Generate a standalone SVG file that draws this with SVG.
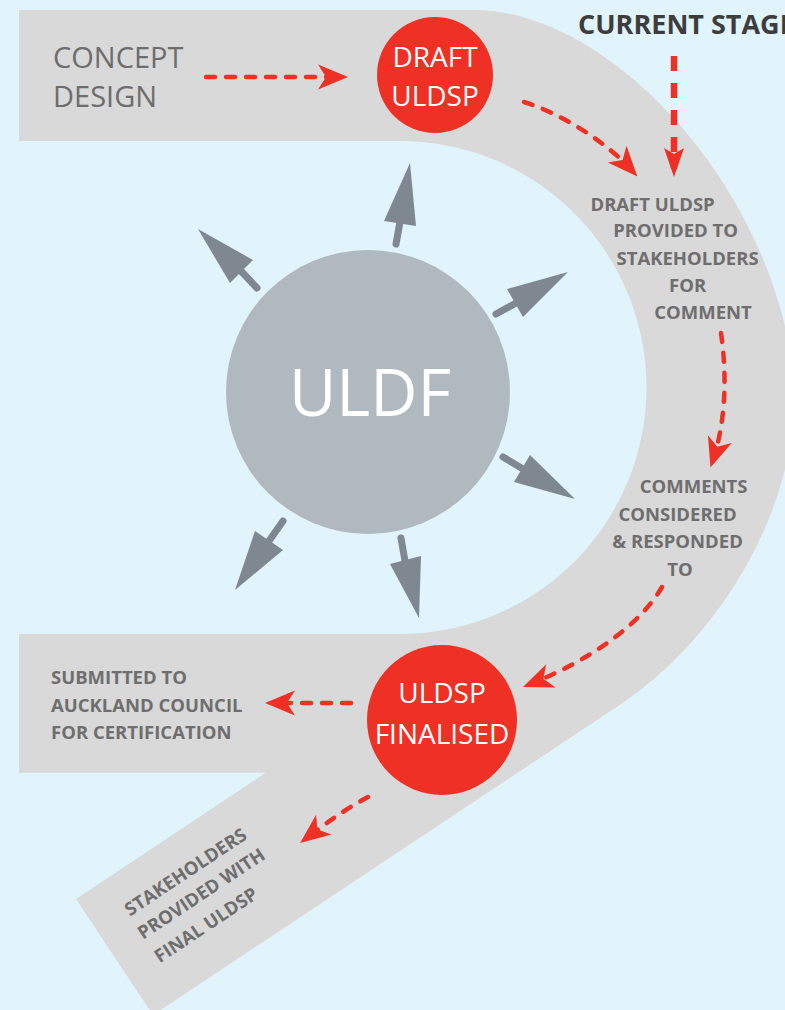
<svg xmlns="http://www.w3.org/2000/svg" width="785" height="1010" viewBox="0 0 785 1010">
  <defs>
    <style>
      .label { font-family: "Open Sans", "Liberation Sans", sans-serif; font-weight: 700; font-size: 18.5px; fill: #6e6e6e; }
      .big { font-family: "Open Sans", "Liberation Sans", sans-serif; font-size: 28px; fill: #ffffff; text-anchor: middle; }
      .flow { fill: none; stroke: #ee3124; stroke-width: 4.5; stroke-linecap: round; stroke-dasharray: 9 11; }
      .ray { stroke: #7f8890; stroke-width: 7; stroke-linecap: round; }
      .rayhead { fill: #7f8890; }
    </style>
    <marker id="redHead" markerUnits="userSpaceOnUse" markerWidth="32" markerHeight="26" viewBox="-24 -13 32 26" refX="0" refY="0" orient="auto">
      <path d="M8,0 L-22,-12.5 L-14,0 L-22,12.5 Z" fill="#ee3124"/>
    </marker>
    <marker id="stageHead" markerUnits="userSpaceOnUse" markerWidth="32" markerHeight="22" viewBox="-24 -11 32 22" refX="0" refY="0" orient="auto">
      <path d="M8,0 L-21,-10 L-15,0 L-21,10 Z" fill="#ee3124"/>
    </marker>
  </defs>

  <!-- background -->
  <rect x="0" y="0" width="785" height="1010" fill="#e1f3fb"/>

  <!-- process track -->
  <path id="track" fill="#d9d9d9"
        d="M19,10 H475 C610,10 780,190 795,390 C795,520 711.6,644 620,704.7 L153,1015 L76,899 L265.7,772.7 H19 V634 H400 A246.5,246.5 0 0 0 646.5,387.5 A246.5,246.5 0 0 0 400,141 H19 Z"/>

  <!-- nodes -->
  <g id="concept-design">
    <text font-family="'Open Sans', 'Liberation Sans', sans-serif" font-size="29" fill="#6d6d6d">
      <tspan x="53" y="68">CONCEPT</tspan>
      <tspan x="53" y="107">DESIGN</tspan>
    </text>
  </g>

  <g id="draft-uldsp">
    <circle cx="435" cy="75" r="58" fill="#ee3124"/>
    <text class="big"><tspan x="435" y="67">DRAFT</tspan><tspan x="435" y="106">ULDSP</tspan></text>
  </g>

  <g id="current-stage">
    <text x="578" y="34" font-family="'Open Sans', 'Liberation Sans', sans-serif" font-weight="700" font-size="27" fill="#3d3d3d">CURRENT STAGE</text>
  </g>

  <g id="draft-provided">
    <text class="label" text-anchor="middle">
      <tspan x="655" y="211">DRAFT ULDSP</tspan>
      <tspan x="678" y="237">PROVIDED TO</tspan>
      <tspan x="690" y="265">STAKEHOLDERS</tspan>
      <tspan x="690" y="292">FOR</tspan>
      <tspan x="703" y="319">COMMENT</tspan>
    </text>
  </g>

  <g id="comments-considered">
    <text class="label" text-anchor="middle">
      <tspan x="696" y="493">COMMENTS</tspan>
      <tspan x="680" y="521">CONSIDERED</tspan>
      <tspan x="680" y="548">&amp; RESPONDED</tspan>
      <tspan x="680" y="576">TO</tspan>
    </text>
  </g>

  <g id="uldsp-finalised">
    <circle cx="442" cy="720" r="75" fill="#ee3124"/>
    <text class="big"><tspan x="442" y="703">ULDSP</tspan><tspan x="442" y="744">FINALISED</tspan></text>
  </g>

  <g id="submitted">
    <text class="label">
      <tspan x="51" y="684">SUBMITTED TO</tspan>
      <tspan x="51" y="712">AUCKLAND COUNCIL</tspan>
      <tspan x="51" y="739">FOR CERTIFICATION</tspan>
    </text>
  </g>

  <g id="stakeholders-final">
    <text class="label" transform="translate(130,916.7) rotate(-33.6)">
      <tspan x="0" y="0">STAKEHOLDERS</tspan>
      <tspan x="-2" y="26.7">PROVIDED WITH</tspan>
      <tspan x="-1" y="55.4">FINAL ULDSP</tspan>
    </text>
  </g>

  <g id="uldf">
    <circle cx="368" cy="392" r="142" fill="#b0b9bf"/>
    <text x="370" y="416" text-anchor="middle" font-family="'Open Sans', 'Liberation Sans', sans-serif" font-size="65" fill="#ffffff">ULDF</text>
  </g>

  <!-- connectors -->
  <g id="connectors">
    <g id="flow-arrows">
      <path class="flow" d="M206,77 H340" marker-end="url(#redHead)"/>
      <path class="flow" d="M524,102 C565,115 608,144 632,170.5" marker-end="url(#redHead)"/>
      <path fill="none" stroke="#ee3124" stroke-width="6.5" stroke-dasharray="15 12" d="M674,56 V169" marker-end="url(#stageHead)"/>
      <path class="flow" d="M721,333 C727,375 726,420 713,460" marker-end="url(#redHead)"/>
      <path class="flow" d="M662,587 C640,625 590,660 530.4,684" marker-end="url(#redHead)"/>
      <path class="flow" d="M351,703 H273" marker-end="url(#redHead)"/>
      <path class="flow" d="M368,797 Q340,812 306.4,838.2" marker-end="url(#redHead)"/>
    </g>
    <g id="uldf-rays">
      <line class="ray" x1="396" y1="244" x2="400" y2="222"/>
      <polygon class="rayhead" points="410,163 384,221 416,226"/>
      <line class="ray" x1="257" y1="288" x2="241" y2="271"/>
      <polygon class="rayhead" points="198,229 230,283 253,260"/>
      <line class="ray" x1="496" y1="314" x2="516" y2="303"/>
      <polygon class="rayhead" points="568,272 507,289 523,317"/>
      <line class="ray" x1="503" y1="457" x2="523" y2="469"/>
      <polygon class="rayhead" points="575,499 530,455 514,482"/>
      <line class="ray" x1="401" y1="538" x2="405" y2="561"/>
      <polygon class="rayhead" points="419,618 390,564 421,556"/>
      <line class="ray" x1="283" y1="521" x2="269" y2="541"/>
      <polygon class="rayhead" points="235,590 255,531 283,550"/>
    </g>
  </g>
</svg>
